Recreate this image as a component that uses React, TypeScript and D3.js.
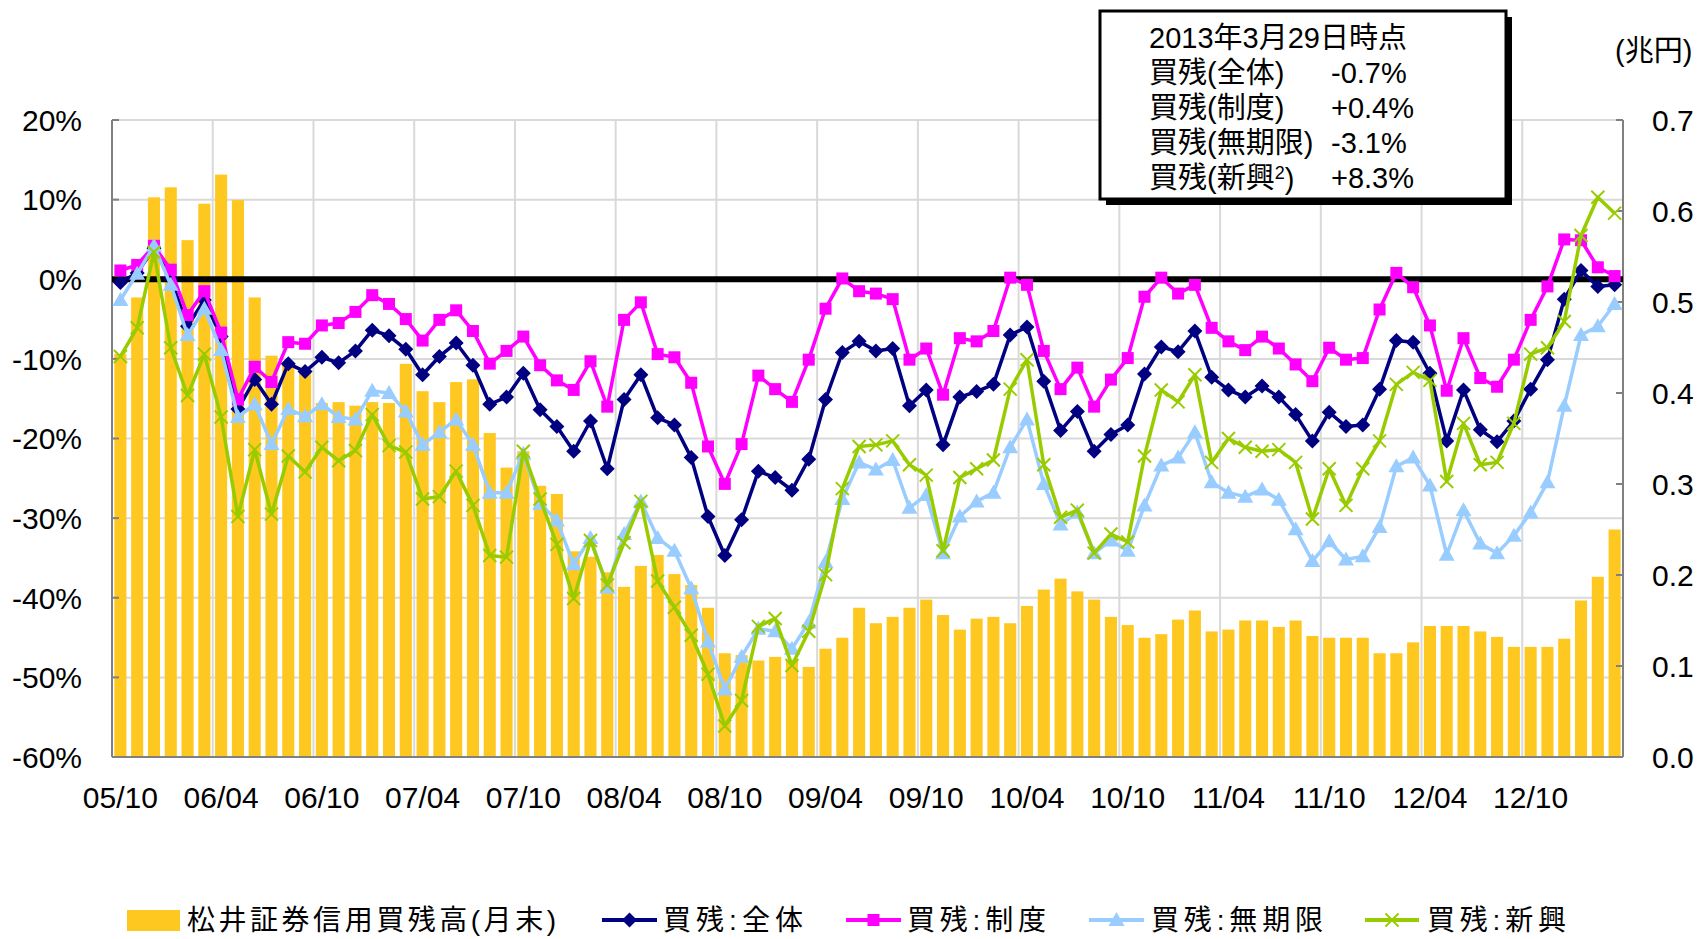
import React from "react";
import * as d3 from "d3";

const categories = [
  "05/10", "05/11", "05/12",
  "06/01", "06/02", "06/03", "06/04", "06/05", "06/06", "06/07", "06/08", "06/09", "06/10", "06/11", "06/12",
  "07/01", "07/02", "07/03", "07/04", "07/05", "07/06", "07/07", "07/08", "07/09", "07/10", "07/11", "07/12",
  "08/01", "08/02", "08/03", "08/04", "08/05", "08/06", "08/07", "08/08", "08/09", "08/10", "08/11", "08/12",
  "09/01", "09/02", "09/03", "09/04", "09/05", "09/06", "09/07", "09/08", "09/09", "09/10", "09/11", "09/12",
  "10/01", "10/02", "10/03", "10/04", "10/05", "10/06", "10/07", "10/08", "10/09", "10/10", "10/11", "10/12",
  "11/01", "11/02", "11/03", "11/04", "11/05", "11/06", "11/07", "11/08", "11/09", "11/10", "11/11", "11/12",
  "12/01", "12/02", "12/03", "12/04", "12/05", "12/06", "12/07", "12/08", "12/09", "12/10", "12/11", "12/12",
  "13/01", "13/02", "13/03",
];

const xTickLabels = [
  "05/10", "06/04", "06/10", "07/04", "07/10", "08/04", "08/10", "09/04",
  "09/10", "10/04", "10/10", "11/04", "11/10", "12/04", "12/10",
];

// 松井証券信用買残高(月末) 兆円
const balance = [
  0.443, 0.505, 0.615, 0.626, 0.568, 0.608, 0.640, 0.612, 0.505, 0.441,
  0.431, 0.422, 0.389, 0.390, 0.386, 0.390, 0.389, 0.432, 0.402, 0.390,
  0.412, 0.415, 0.356, 0.318, 0.336, 0.298, 0.289, 0.226, 0.220, 0.203,
  0.187, 0.210, 0.222, 0.201, 0.189, 0.164, 0.114, 0.112, 0.106, 0.110,
  0.107, 0.099, 0.119, 0.131, 0.164, 0.147, 0.154, 0.164, 0.173, 0.156,
  0.140, 0.152, 0.154, 0.147, 0.166, 0.184, 0.196, 0.182, 0.173, 0.154,
  0.145, 0.131, 0.135, 0.151, 0.161, 0.138, 0.140, 0.150, 0.150, 0.143,
  0.150, 0.133, 0.131, 0.131, 0.131, 0.114, 0.114, 0.126, 0.144, 0.144,
  0.144, 0.138, 0.132, 0.121, 0.121, 0.121, 0.130, 0.172, 0.198, 0.250,
];

// 買残:全体 (%)
const ratioTotal = [
  -0.4, 0.8, 3.9, 0.1, -5.9, -2.6, -7.2, -16.3, -12.6, -15.7,
  -10.6, -11.6, -9.8, -10.5, -9.0, -6.4, -7.1, -8.8, -12.0, -9.7,
  -8.0, -10.8, -15.7, -14.8, -11.8, -16.4, -18.5, -21.6, -17.8, -23.8,
  -15.1, -12.0, -17.4, -18.3, -22.4, -29.8, -34.7, -30.2, -24.1, -24.9,
  -26.5, -22.6, -15.1, -9.2, -7.8, -9.0, -8.7, -15.9, -13.9, -20.8,
  -14.8, -14.1, -13.2, -7.0, -6.0, -12.8, -19.0, -16.6, -21.6, -19.5,
  -18.3, -11.9, -8.5, -9.1, -6.5, -12.3, -13.9, -14.8, -13.4, -14.8,
  -17.0, -20.3, -16.7, -18.5, -18.3, -13.8, -7.7, -7.9, -11.8, -20.3,
  -13.9, -18.9, -20.4, -17.8, -13.8, -10.1, -2.5, 1.1, -0.9, -0.7,
];

// 買残:制度 (%)
const ratioSeido = [
  1.1, 1.8, 4.2, 1.2, -4.5, -1.5, -6.7, -15.1, -11.0, -12.9,
  -7.9, -8.1, -5.8, -5.5, -4.1, -2.0, -3.1, -5.0, -7.7, -5.1,
  -3.9, -6.5, -10.6, -9.0, -7.2, -10.8, -12.7, -13.9, -10.3, -16.0,
  -5.1, -2.9, -9.4, -9.8, -13.0, -21.0, -25.7, -20.7, -12.1, -13.8,
  -15.4, -10.1, -3.7, 0.1, -1.5, -1.8, -2.5, -10.1, -8.7, -14.5,
  -7.4, -7.8, -6.5, 0.2, -0.7, -9.0, -13.8, -11.1, -16.0, -12.6,
  -9.9, -2.2, 0.2, -1.8, -0.7, -6.1, -7.8, -8.9, -7.2, -8.7,
  -10.7, -12.8, -8.6, -10.1, -9.9, -3.8, 0.8, -1.0, -5.8, -14.0,
  -7.4, -12.4, -13.5, -10.1, -5.1, -0.9, 5.0, 4.9, 1.5, 0.4,
];

// 買残:無期限 (%)
const ratioMukigen = [
  -2.6, 0.7, 4.2, -0.7, -7.0, -3.7, -8.9, -17.3, -15.7, -20.7,
  -16.3, -17.2, -15.7, -17.3, -17.6, -14.0, -14.3, -16.6, -20.8, -19.2,
  -17.6, -20.8, -26.8, -26.8, -21.9, -28.2, -30.3, -35.8, -32.5, -38.7,
  -32.0, -27.9, -32.5, -34.1, -38.8, -45.5, -51.5, -47.4, -43.9, -44.2,
  -46.4, -43.1, -35.5, -27.6, -23.0, -23.9, -22.7, -28.7, -27.1, -34.4,
  -29.8, -27.9, -26.8, -21.1, -17.6, -25.7, -30.8, -29.3, -34.4, -32.8,
  -34.1, -28.4, -23.4, -22.4, -19.2, -25.5, -26.8, -27.3, -26.4, -27.7,
  -31.4, -35.4, -32.9, -35.2, -34.8, -31.1, -23.5, -22.4, -25.9, -34.6,
  -29.0, -33.2, -34.4, -32.2, -29.3, -25.5, -15.9, -7.0, -5.9, -3.1,
];

// 買残:新興 (%)
const ratioShinko = [
  -9.7, -6.1, 3.4, -8.6, -14.6, -9.4, -17.3, -29.8, -21.4, -29.5,
  -22.2, -24.2, -21.1, -22.8, -21.5, -17.0, -20.9, -21.7, -27.6, -27.3,
  -24.1, -28.4, -34.7, -34.9, -21.6, -27.6, -33.3, -40.1, -32.8, -38.4,
  -33.1, -27.9, -37.9, -41.2, -44.7, -49.6, -56.1, -52.9, -43.6, -42.6,
  -48.5, -44.2, -37.1, -26.3, -21.0, -20.8, -20.3, -23.3, -24.6, -34.1,
  -24.9, -23.8, -22.7, -13.8, -10.1, -23.3, -29.9, -29.0, -34.4, -32.0,
  -33.0, -22.2, -13.9, -15.4, -12.0, -23.0, -20.0, -21.1, -21.6, -21.4,
  -23.0, -30.1, -23.8, -28.4, -23.8, -20.3, -13.2, -11.7, -12.7, -25.4,
  -18.1, -23.3, -23.0, -18.1, -9.4, -8.6, -5.3, 5.5, 10.3, 8.3,
];

const leftTicks = [20, 10, 0, -10, -20, -30, -40, -50, -60];
const rightTicks = [0.7, 0.6, 0.5, 0.4, 0.3, 0.2, 0.1, 0.0];
const rightUnit = "(兆円)";

const infoTitle = "2013年3月29日時点";
const infoLabels = ["買残(全体)", "買残(制度)", "買残(無期限)", "買残(新興"];
const infoValues = ["-0.7%", "+0.4%", "-3.1%", "+8.3%"];

const legendBarLabel = "松井証券信用買残高(月末)";
const seriesNames = ["買残:全体", "買残:制度", "買残:無期限", "買残:新興"];

const FONT = "'Liberation Sans', Arial, 'Noto Sans CJK JP', sans-serif";
const BAR_COLOR = "#FFC820";

type MarkerType = "diamond" | "square" | "triangle" | "cross";

function Marker({ type, x, y, color }: { type: MarkerType; x: number; y: number; color: string }) {
  if (type === "diamond") {
    const r = 7.5;
    return <path d={`M${x},${y - r}L${x + r},${y}L${x},${y + r}L${x - r},${y}Z`} fill={color} />;
  }
  if (type === "square") {
    return <rect x={x - 6} y={y - 6} width={12} height={12} fill={color} />;
  }
  if (type === "triangle") {
    return <path d={`M${x},${y - 8}L${x + 8},${y + 6}L${x - 8},${y + 6}Z`} fill={color} />;
  }
  const r = 6.5;
  return (
    <g stroke={color} strokeWidth={2}>
      <line x1={x - r} y1={y - r} x2={x + r} y2={y + r} />
      <line x1={x - r} y1={y + r} x2={x + r} y2={y - r} />
    </g>
  );
}

export default function App() {
  const W = 1708, H = 939;
  const L = 112, R = 1623, T = 120, B = 757;

  const x = d3.scaleBand<string>().domain(categories).range([L, R]).paddingInner(0.28).paddingOuter(0.14);
  const step = x.step();
  const bw = x.bandwidth();
  const cx = (i: number) => (x(categories[i]) as number) + bw / 2;
  const boundary = (c: string) => (x(c) as number) - (step - bw) / 2;

  const yL = d3.scaleLinear().domain([-60, 20]).range([B, T]);
  const yR = d3.scaleLinear().domain([0, 0.7]).range([B, T]);

  const lineGen = d3.line<number>().x((_, i) => cx(i)).y((v) => yL(v));

  const series: { name: string; values: number[]; color: string; marker: MarkerType }[] = [
    { name: seriesNames[0], values: ratioTotal, color: "#000080", marker: "diamond" },
    { name: seriesNames[1], values: ratioSeido, color: "#FF00FF", marker: "square" },
    { name: seriesNames[2], values: ratioMukigen, color: "#99CCFF", marker: "triangle" },
    { name: seriesNames[3], values: ratioShinko, color: "#99CC00", marker: "cross" },
  ];

  const legendLines = [
    { x0: 602, x1: 657, tx: 663, tl: 140 },
    { x0: 846, x1: 901, tx: 907, tl: 139 },
    { x0: 1089, x1: 1144, tx: 1151, tl: 172 },
    { x0: 1365, x1: 1419, tx: 1427, tl: 139 },
  ];
  const legendY = 920;

  return (
    <svg
      width={W}
      height={H}
      viewBox={`0 0 ${W} ${H}`}
      style={{ position: "absolute", left: 0, top: 0, background: "#fff" }}
      fontFamily={FONT}
    >
      <rect x={0} y={0} width={W} height={H} fill="#fff" />

      {/* horizontal gridlines */}
      {leftTicks.map((t) => (
        <line key={`hg${t}`} x1={L} x2={R} y1={yL(t)} y2={yL(t)} stroke="#D9D9D9" strokeWidth={2} />
      ))}
      {/* vertical gridlines */}
      {xTickLabels.slice(1).map((c) => (
        <line key={`vg${c}`} x1={boundary(c)} x2={boundary(c)} y1={T} y2={B} stroke="#D9D9D9" strokeWidth={2} />
      ))}

      {/* bars */}
      {balance.map((v, i) => (
        <rect
          key={`b${i}`}
          x={x(categories[i]) as number}
          y={yR(v)}
          width={bw}
          height={B - yR(v)}
          fill={BAR_COLOR}
        />
      ))}

      {/* axes */}
      <line x1={L} x2={L} y1={T} y2={B} stroke="#808080" strokeWidth={2} />
      <line x1={R} x2={R} y1={T} y2={B} stroke="#808080" strokeWidth={2} />
      <line x1={L} x2={R} y1={B} y2={B} stroke="#808080" strokeWidth={2} />
      {leftTicks.map((t) => (
        <line key={`lt${t}`} x1={L} x2={L + 7} y1={yL(t)} y2={yL(t)} stroke="#808080" strokeWidth={2} />
      ))}
      {rightTicks.map((t) => (
        <line key={`rt${t}`} x1={R - 7} x2={R} y1={yR(t)} y2={yR(t)} stroke="#808080" strokeWidth={2} />
      ))}

      {/* zero line */}
      <line x1={L} x2={R} y1={yL(0)} y2={yL(0)} stroke="#000" strokeWidth={6} />

      {/* series */}
      {series.map((s) => (
        <g key={s.name}>
          <path d={lineGen(s.values) || ""} fill="none" stroke={s.color} strokeWidth={3.5} strokeLinejoin="round" />
          {s.values.map((v, i) => (
            <Marker key={i} type={s.marker} x={cx(i)} y={yL(v)} color={s.color} />
          ))}
        </g>
      ))}

      {/* left tick labels */}
      {leftTicks.map((t) => (
        <text key={`ll${t}`} x={82} y={yL(t)} dy="0.36em" textAnchor="end" fontSize={30} fill="#000">
          {`${t}%`}
        </text>
      ))}
      {/* right tick labels */}
      {rightTicks.map((t) => (
        <text key={`rl${t}`} x={1652} y={yR(t)} dy="0.36em" textAnchor="start" fontSize={30} fill="#000">
          {d3.format(".1f")(t)}
        </text>
      ))}
      <text x={1615} y={51} dy="0.36em" fontSize={29} fill="#000">{rightUnit}</text>

      {/* x tick labels */}
      {xTickLabels.map((c) => (
        <text key={`xl${c}`} x={cx(categories.indexOf(c))} y={797} dy="0.36em" textAnchor="middle" fontSize={30} fill="#000">
          {c}
        </text>
      ))}

      {/* info box */}
      <rect x={1106} y={17} width={406} height={188} fill="#000" />
      <rect x={1100} y={11} width={406} height={188} fill="#fff" stroke="#000" strokeWidth={3} />
      <text x={1149} y={38} dy="0.36em" fontSize={29} fill="#000">{infoTitle}</text>
      {infoLabels.map((lab, k) => (
        <g key={`info${k}`}>
          <text x={1149} y={73 + k * 35} dy="0.36em" fontSize={29} fill="#000">
            {lab}
            {k === 3 ? (
              <>
                <tspan fontSize={18} dy="-0.55em">2</tspan>
                <tspan dy="0.35em">)</tspan>
              </>
            ) : null}
          </text>
          <text x={1331} y={73 + k * 35} dy="0.36em" fontSize={29} fill="#000">{infoValues[k]}</text>
        </g>
      ))}

      {/* legend */}
      <rect x={127} y={910} width={53} height={21} fill={BAR_COLOR} />
      <text x={187} y={legendY} dy="0.36em" fontSize={28} fill="#000" textLength={369} lengthAdjust="spacing">
        {legendBarLabel}
      </text>
      {series.map((s, k) => {
        const g = legendLines[k];
        return (
          <g key={`lg${k}`}>
            <line x1={g.x0} x2={g.x1} y1={legendY} y2={legendY} stroke={s.color} strokeWidth={4} />
            <Marker type={s.marker} x={(g.x0 + g.x1) / 2} y={legendY} color={s.color} />
            <text x={g.tx} y={legendY} dy="0.36em" fontSize={28} fill="#000" textLength={g.tl} lengthAdjust="spacing">
              {s.name}
            </text>
          </g>
        );
      })}
    </svg>
  );
}
